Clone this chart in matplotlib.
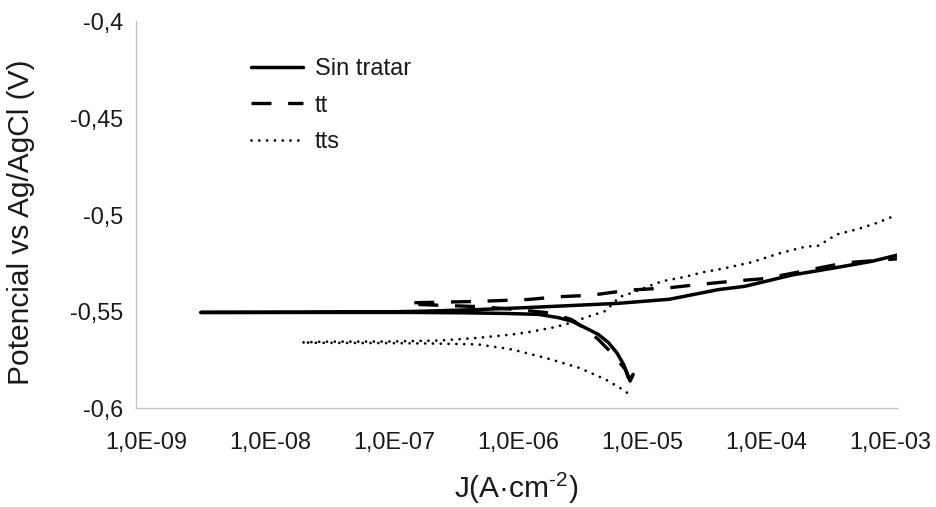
import matplotlib
matplotlib.use("Agg")
import matplotlib.pyplot as plt
import matplotlib.transforms as mtransforms
from matplotlib.ticker import NullLocator, FixedLocator

plt.rcParams['font.family'] = ['Liberation Sans', 'DejaVu Sans']
plt.rcParams['mathtext.fontset'] = 'custom'
plt.rcParams['mathtext.rm'] = 'Liberation Sans'
plt.rcParams['mathtext.it'] = 'Liberation Sans:italic'

# ---- data (J in A/cm2, E in V vs Ag/AgCl) ----
series_names = ["Sin tratar", "tt", "tts"]

J_sin = [8.3e-6, 7.85e-6, 7.5e-6, 6.97e-6, 6.17e-6, 5.3e-6, 4.43e-6, 3.48e-6, 2.72e-6,
         2.14e-6, 1.49e-6, 8e-7, 4e-7, 1.5e-7, 5e-8, 1e-8, 3.25e-9,
         2e-8, 1e-7, 2e-7, 5e-7, 1.2e-6, 3e-6, 6.3e-6, 1.6e-5, 3.9e-5, 6.3e-5,
         1.5e-4, 3.2e-4, 6.3e-4, 1.0e-3]
E_sin = [-0.5825, -0.5859, -0.5825, -0.5773, -0.5713, -0.5661, -0.5619, -0.5584, -0.5550,
         -0.5532, -0.5515, -0.5510, -0.5507, -0.5505, -0.5505, -0.5505, -0.5505,
         -0.5504, -0.5502, -0.5498, -0.5490, -0.5480, -0.5468, -0.5458, -0.5437, -0.5387, -0.5370,
         -0.5311, -0.5275, -0.5241, -0.5209]

J_tt = [8.0e-6, 7.6e-6, 7.2e-6, 5.6e-6, 4.4e-6, 3.7e-6, 2.7e-6, 1.8e-6, 1e-6, 5e-7, 2.5e-7, 1.4e-7,
        1.5e-7, 5e-7, 1.24e-6, 2.14e-6, 3.9e-6, 7.6e-6, 1.57e-5, 2.7e-5, 4.95e-5, 9.1e-5,
        1.56e-4, 3.87e-4, 1.0e-3]
E_tt = [-0.5838, -0.5842, -0.5799, -0.5713, -0.5644, -0.5601, -0.5541, -0.5507, -0.5490, -0.5475, -0.5468, -0.5462,
        -0.5455, -0.5448, -0.5438, -0.5424, -0.5416, -0.5390, -0.5378, -0.5361, -0.5344, -0.5330,
        -0.5300, -0.5249, -0.5228]

J_tts = [7.4e-6, 7.18e-6, 5e-6, 3.08e-6, 1.68e-6, 9.2e-7, 5e-7, 2e-7, 8e-8, 3e-8, 2.04e-8,
         3e-8, 1e-7, 2.5e-7, 5e-7, 9.2e-7, 1.24e-6, 1.9e-6, 2.42e-6, 3.48e-6, 5e-6, 6.5e-6,
         8e-6, 1.1e-5, 1.4e-5, 2.13e-5, 2.96e-5, 4.14e-5, 7.1e-5, 1.16e-4, 1.87e-4, 2.39e-4,
         2.86e-4, 3.3e-4, 4.93e-4, 7.1e-4, 1.0e-3]
E_tts = [-0.5919, -0.5911, -0.5850, -0.5790, -0.5739, -0.5696, -0.5670, -0.5665, -0.5663, -0.5662, -0.5660,
         -0.5656, -0.5655, -0.5650, -0.5636, -0.5619, -0.5607, -0.5584, -0.5567, -0.5532, -0.5498, -0.5425,
         -0.5405, -0.5370, -0.5344, -0.5321, -0.5297, -0.5280, -0.5246, -0.5201, -0.5166, -0.5160,
         -0.5129, -0.5103, -0.5074, -0.5040, -0.5000]

x_ticks = [1e-9, 1e-8, 1e-7, 1e-6, 1e-5, 1e-4, 1e-3]
x_ticklabels = ["1,0E-09", "1,0E-08", "1,0E-07", "1,0E-06", "1,0E-05", "1,0E-04", "1,0E-03"]
y_ticks = [-0.6, -0.55, -0.5, -0.45, -0.4]
y_ticklabels = ["-0,6", "-0,55", "-0,5", "-0,45", "-0,4"]

# ---- figure ----
W, H = 936, 507
fig = plt.figure(figsize=(W / 100, H / 100), dpi=100)
x0, x1, ytop, ybot = 135.7, 897.3, 21.0, 408.3
ax = fig.add_axes([x0 / W, 1 - ybot / H, (x1 - x0) / W, (ybot - ytop) / H])

ax.plot(J_sin, E_sin, color='black', lw=2.5, ls='-', solid_capstyle='round', label=series_names[0])
ax.plot(J_tt, E_tt, color='black', lw=2.4, ls=(0, (6, 5)), label=series_names[1])
ax.plot(J_tts, E_tts, color='black', lw=2.0, ls=(0, (0.01, 2.8)), dash_capstyle='round',
        label=series_names[2])

ax.set_xscale('log')
ax.set_xlim(1e-9, 1e-3)
ax.set_ylim(-0.6, -0.4)
ax.xaxis.set_major_locator(FixedLocator(x_ticks))
ax.xaxis.set_minor_locator(NullLocator())
ax.set_xticklabels(x_ticklabels)
ax.set_yticks(y_ticks)
ax.set_yticklabels(y_ticklabels)
ax.tick_params(axis='both', length=0, labelsize=16.8, colors='#1a1a1a')
ax.tick_params(axis='x', pad=16)
ax.tick_params(axis='y', pad=9)

# Excel-like label placement (labels slightly inset)
n = len(x_ticklabels)
for i, lab in enumerate(ax.get_xticklabels()):
    dx = (10.3 - 17.1 * i / (n - 1)) / 100.0
    lab.set_transform(lab.get_transform() + mtransforms.ScaledTranslation(dx, 0, fig.dpi_scale_trans))

for s in ['top', 'right']:
    ax.spines[s].set_visible(False)
for s in ['left', 'bottom']:
    ax.spines[s].set_color('#c4c4c4')
    ax.spines[s].set_linewidth(1.0)

ax.set_xlabel(r'J(A·cm$^{\text{-2}}$)', fontsize=21.5, color='#1a1a1a')
ax.xaxis.label.set_va('center')
ax.xaxis.set_label_coords(0.5, (ybot - 488) / (ybot - ytop))
ax.set_ylabel('Potencial vs Ag/AgCl (V)', fontsize=21.5, color='#1a1a1a')
ax.yaxis.label.set_va('center')
ax.yaxis.set_label_coords((21 - x0) / (x1 - x0), (ybot - 222) / (ybot - ytop))

ax.legend(loc='upper left', bbox_to_anchor=(250.7 / W, 1 - 58 / H), bbox_transform=fig.transFigure,
          frameon=False, borderpad=0, borderaxespad=0, handlelength=2.22, handletextpad=0.5,
          labelspacing=0.62, fontsize=17, labelcolor='#1a1a1a')

fig.savefig('out.png', dpi=100)
